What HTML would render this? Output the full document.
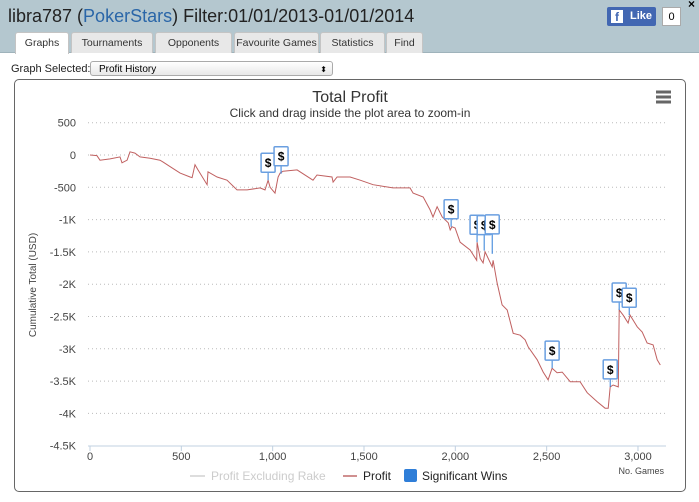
<!DOCTYPE html>
<html><head><meta charset="utf-8"><style>
body{margin:0;width:699px;height:502px;overflow:hidden;background:#fff;font-family:"Liberation Sans",sans-serif;position:relative}
.hdr{position:absolute;left:0;top:0;width:699px;height:52px;background:#b4c7cf;border-bottom:1px solid #9fb3bb}
.ttl{position:absolute;left:8px;top:6px;font-size:18px;color:#222}
.ttl span{color:#2a66a8}
.tab{position:absolute;top:32px;height:20px;background:#e8e8e8;border:1px solid #c4c4c4;border-bottom:none;border-radius:3px 3px 0 0;font-size:10.5px;color:#333;text-align:center;line-height:20px;white-space:nowrap;overflow:hidden}
.tab.on{background:#fff;height:21px}
.like{position:absolute;left:607px;top:7px;width:49px;height:19px;background:#4267b2;border-radius:2px;color:#fff;font-size:11px;font-weight:bold;line-height:19px;text-align:right;padding-right:4px;box-sizing:border-box}
.cnt{position:absolute;left:662px;top:7px;width:19px;height:19px;background:#fff;border:1px solid #aaa;font-size:11px;text-align:center;line-height:19px;box-sizing:border-box}
.gs{position:absolute;left:11px;top:63px;font-size:11px;color:#222}
.sel{position:absolute;left:90px;top:61px;width:243px;height:15px;border:1px solid #aaa;border-radius:3px;background:linear-gradient(#fff,#e8e8e8);font-size:10px;line-height:15px;padding-left:8px;box-sizing:border-box}
.box{position:absolute;left:14px;top:79px;width:672px;height:413px;border:1px solid #666;border-radius:5px;box-sizing:border-box}
</style></head><body>
<div class="hdr">
<div class="ttl">libra787 (<span>PokerStars</span>) Filter:01/01/2013-01/01/2014</div>
<div class="like"><span style="position:absolute;left:4px;top:3px;width:12px;height:13px;background:#fff;color:#4267b2;text-align:center;line-height:14px;font-size:12px">f</span>Like</div>
<div class="cnt">0</div>
<div style="position:absolute;left:688px;top:-3px;font-size:12px;font-weight:bold">×</div>
<div class="tab on" style="left:15px;width:52px">Graphs</div>
<div class="tab" style="left:71px;width:80px">Tournaments</div>
<div class="tab" style="left:155px;width:75px">Opponents</div>
<div class="tab" style="left:234px;width:83px">Favourite Games</div>
<div class="tab" style="left:320px;width:63px">Statistics</div>
<div class="tab" style="left:386px;width:35px">Find</div>
</div>
<div class="gs">Graph Selected:</div>
<div class="sel">Profit History<span style="position:absolute;right:5px;top:0;font-size:8px">⬍</span></div>
<div class="box"></div>
<svg id="chart" width="699" height="502" style="position:absolute;left:0;top:0" font-family="Liberation Sans, sans-serif"></svg>
<script>
const games=[0,38,55,110,164,175,203,219,246,274,329,383,400,438,493,548,559,575,591,641,646,696,750,805,860,931,958,975,986,1013,1030,1041,1057,1134,1221,1243,1325,1331,1353,1424,1479,1550,1659,1752,1769,1824,1862,1878,1900,1928,1961,1972,1982,1999,2026,2081,2117,2119,2136,2152,2163,2202,2207,2229,2256,2284,2317,2355,2382,2399,2448,2481,2508,2530,2557,2585,2629,2683,2722,2777,2820,2837,2848,2864,2892,2897,2919,2946,2957,2996,3023,3050,3083,3105,3122];
const profit=[0,-10,-80,-60,-30,-120,-80,50,30,-30,-50,-80,-110,-180,-280,-340,-350,-150,-230,-460,-260,-340,-390,-540,-540,-510,-540,-390,-500,-590,-340,-280,-250,-230,-390,-310,-340,-420,-340,-340,-390,-460,-510,-510,-590,-650,-850,-960,-800,-960,-1050,-1160,-1110,-1130,-1350,-1470,-1630,-1350,-1600,-1670,-1500,-1730,-1630,-1980,-2320,-2400,-2760,-2790,-2860,-2970,-3170,-3360,-3480,-3300,-3370,-3360,-3510,-3510,-3680,-3820,-3920,-3920,-3590,-3560,-3590,-2400,-2480,-2600,-2480,-2660,-2740,-2910,-2940,-3170,-3250];
const winGames=[975,1046,1977,2119,2158,2202,2530,2848,2897,2952];
const winValues=[-390,-290,-1110,-1350,-1480,-1530,-3300,-3590,-2400,-2480];
const winOffsets=[8,8,8,8,16,20,8,8,8,8];
const yTicks=[500,0,-500,-1000,-1500,-2000,-2500,-3000,-3500,-4000,-4500];
const yLabels=["500","0","-500","-1K","-1.5K","-2K","-2.5K","-3K","-3.5K","-4K","-4.5K"];
const xTicks=[0,500,1000,1500,2000,2500,3000];
const xLabels=["0","500","1,000","1,500","2,000","2,500","3,000"];
const NS="http://www.w3.org/2000/svg";
const svg=document.getElementById('chart');
const X=g=>90+g*0.18266;
const Y=v=>155-v*0.0646;
function el(t,a,txt){const e=document.createElementNS(NS,t);for(const k in a)e.setAttribute(k,a[k]);if(txt!==undefined)e.textContent=txt;svg.appendChild(e);return e;}
let e;
e=el('text',{x:350,y:102,'text-anchor':'middle','font-size':16,fill:'#333'},'Total Profit');


e=el('text',{x:350,y:117,'text-anchor':'middle','font-size':12,fill:'#333'},'Click and drag inside the plot area to zoom-in');


e=el('path',{d:'M656 92h15M656 97h15M656 102h15',stroke:'#666','stroke-width':3});


yTicks.forEach((v,i)=>{
 if(i<yTicks.length-1){e=el('line',{x1:88,x2:666,y1:Y(v),y2:Y(v),stroke:'#bbb','stroke-dasharray':'1,3'});
 
 }
 e=el('text',{x:76,y:Y(v)+4,'text-anchor':'end','font-size':11,fill:'#444'},yLabels[i]);
 
 
});
e=el('line',{x1:88,x2:666,y1:446,y2:446,stroke:'#c0d0e0'});


xTicks.forEach((g,i)=>{
 e=el('line',{x1:X(g),x2:X(g),y1:446,y2:451,stroke:'#c0d0e0'});
 
 
 e=el('text',{x:X(g),y:460,'text-anchor':'middle','font-size':11,fill:'#444'},xLabels[i]);
 
 
});
e=el('text',{x:36,y:285,'text-anchor':'middle','font-size':10,fill:'#444',transform:'rotate(-90 36 285)'},'Cumulative Total (USD)');


e=el('text',{x:664,y:474,'text-anchor':'end','font-size':9,fill:'#444'},'No. Games');


e=el('polyline',{points:games.map((g,i)=>X(g).toFixed(1)+','+Y(profit[i]).toFixed(1)).join(' '),fill:'none',stroke:'#c06060','stroke-width':1});


winGames.forEach((g,i)=>{
 const x=X(g),y=Y(winValues[i]),o=winOffsets[i];
 e=el('line',{x1:x,x2:x,y1:y,y2:y-o,stroke:'#2f7ed8'});
 
 
 e=el('rect',{x:x-7,y:y-o-19,width:14,height:19,fill:'#fff',stroke:'#6a9fe0','stroke-width':1.5,rx:1});
 
 
 e=el('text',{x:x,y:y-o-5,'text-anchor':'middle','font-size':12,'font-weight':'bold',fill:'#000'},'$');
 
 
});
e=el('line',{x1:190,x2:205,y1:476,y2:476,stroke:'#ddd','stroke-width':2});


e=el('text',{x:211,y:480,'font-size':12,fill:'#ccc'},'Profit Excluding Rake');


e=el('line',{x1:343,x2:357,y1:476,y2:476,stroke:'#d09090','stroke-width':2});


e=el('text',{x:363,y:480,'font-size':12,fill:'#222'},'Profit');


e=el('rect',{x:404,y:469,width:13,height:13,fill:'#2f7ed8',rx:2});


e=el('text',{x:422,y:480,'font-size':12,fill:'#222'},'Significant Wins');


</script>
</body></html>
